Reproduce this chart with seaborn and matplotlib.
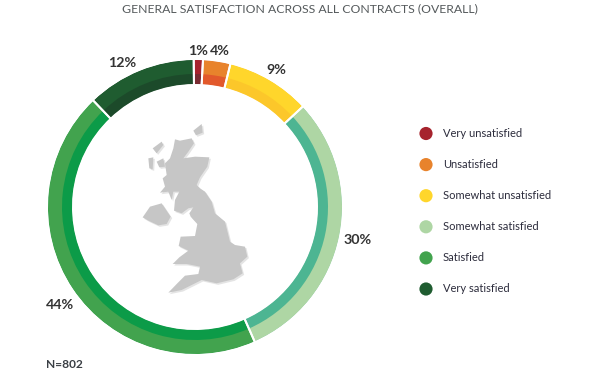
import matplotlib
matplotlib.use("Agg")
import matplotlib.pyplot as plt
import numpy as np
import pandas as pd
import seaborn as sns

# Values
categories = ["Very unsatisfied", "Unsatisfied", "Somewhat unsatisfied",
              "Somewhat satisfied", "Satisfied", "Very satisfied"]
pct_labels = ["1%", "4%", "9%", "30%", "44%", "12%"]
# arc lengths as drawn (the artwork is not exact to the printed numbers)
arc_shares = [1.0, 3.0, 9.2, 30.3, 44.5, 12.0]
outer_colors = ["#a6232d", "#e8832c", "#ffd62b", "#aed6a4", "#42a34e", "#1f5c30"]
inner_colors = ["#7a2b32", "#e2592b", "#fcc72a", "#4db592", "#0c9b48", "#1c4a2a"]

title = "GENERAL SATISFACTION ACROSS ALL CONTRACTS (OVERALL)"
n_label = "N=802"

# rough outline of the map, in zoomed crop pixels
britain = [(165, 58), (180, 62), (215, 55), (222, 70), (205, 95), (190, 115), (225, 110),
           (268, 112), (262, 140), (240, 172), (230, 195), (240, 205), (255, 215), (275, 245),
           (285, 280), (315, 305), (330, 365), (345, 375), (375, 380), (382, 410), (360, 430),
           (368, 460), (340, 478), (290, 490), (245, 480), (215, 495), (185, 510), (145, 518),
           (172, 490), (195, 467), (235, 462), (240, 440), (200, 432), (158, 432), (178, 412),
           (205, 392), (176, 378), (182, 350), (225, 348), (232, 312), (212, 290), (208, 280),
           (220, 262), (205, 265), (185, 280), (162, 272), (165, 240), (178, 215), (160, 215),
           (155, 240), (145, 215), (120, 218), (135, 200), (128, 175), (140, 165), (135, 130),
           (150, 115), (160, 85)]
ireland = [(68, 292), (90, 260), (125, 250), (152, 290), (140, 312), (115, 316), (85, 302)]
lewis = [(98, 85), (125, 65), (130, 75), (110, 100)]
uist = [(85, 115), (100, 112), (98, 148), (88, 145)]
skye = [(110, 125), (130, 115), (135, 140), (118, 142)]
orkney = [(220, 32), (245, 12), (248, 38), (228, 46)]
map_shapes = [britain, ireland, lewis, uist, skye, orkney]

sns.set_theme(style="white")
plt.rcParams["font.family"] = ["Lato", "DejaVu Sans"]

fig = plt.figure(figsize=(6, 3.78), dpi=100)

# ring, y axis pointing up because pie needs it
ring = fig.add_axes([0, 0, 1, 1])
ring_center = (195, 378 - 207)
ring.pie(arc_shares, colors=inner_colors, radius=147, center=ring_center, startangle=90.5,
         counterclock=False, wedgeprops=dict(width=24.5, edgecolor="none"))
ring.pie(arc_shares, colors=outer_colors, radius=147, center=ring_center, startangle=90.5,
         counterclock=False, wedgeprops=dict(width=14, edgecolor="none"))
# white cuts between the slices
ring.pie(arc_shares, colors=["none"] * 6, radius=148, center=ring_center, startangle=90.5,
         counterclock=False, wedgeprops=dict(width=26, edgecolor="white", linewidth=1.4))
ring.set_xlim(0, 600)
ring.set_ylim(0, 378)

# overlay in image pixels
ax = fig.add_axes([0, 0, 1, 1])
ax.patch.set_alpha(0)

for shape in map_shapes:
    pts = np.array(shape) / 3 + 120
    ax.fill(pts[:, 0] + 1.5, pts[:, 1] + 1.5, color="#e4e4e4", lw=0)
for shape in map_shapes:
    pts = np.array(shape) / 3 + 120
    ax.fill(pts[:, 0], pts[:, 1], color="#c6c6c6", lw=0)

# legend dots
legend_df = pd.DataFrame({"cat": categories, "x": 426.0, "y": 133.5 + np.arange(6) * 31.1})
sns.scatterplot(data=legend_df, x="x", y="y", hue="cat", palette=outer_colors, s=90,
                linewidth=0, legend=False, ax=ax)
ax.axis("off")
ax.set_xlim(0, 600)
ax.set_ylim(378, 0)
for row in legend_df.itertuples():
    ax.text(443, row.y, row.cat, fontsize=8.05, color="#2c2c3c", va="center", ha="left")

label_xy = [(198, 51), (220, 51), (276, 70), (358, 240), (60, 305), (122, 63)]
for (lx, ly), lab in zip(label_xy, pct_labels):
    ax.text(lx, ly, lab, fontsize=10.3, fontweight="bold", color="#333333", ha="center", va="center")

ax.text(299.5, 9, title, fontsize=8.85, color="#555a5c", ha="center", va="center")
ax.text(46, 365, n_label, fontsize=8.6, fontweight="bold", color="#3a3f44", ha="left", va="center")

fig.savefig("out.png", dpi=100)
